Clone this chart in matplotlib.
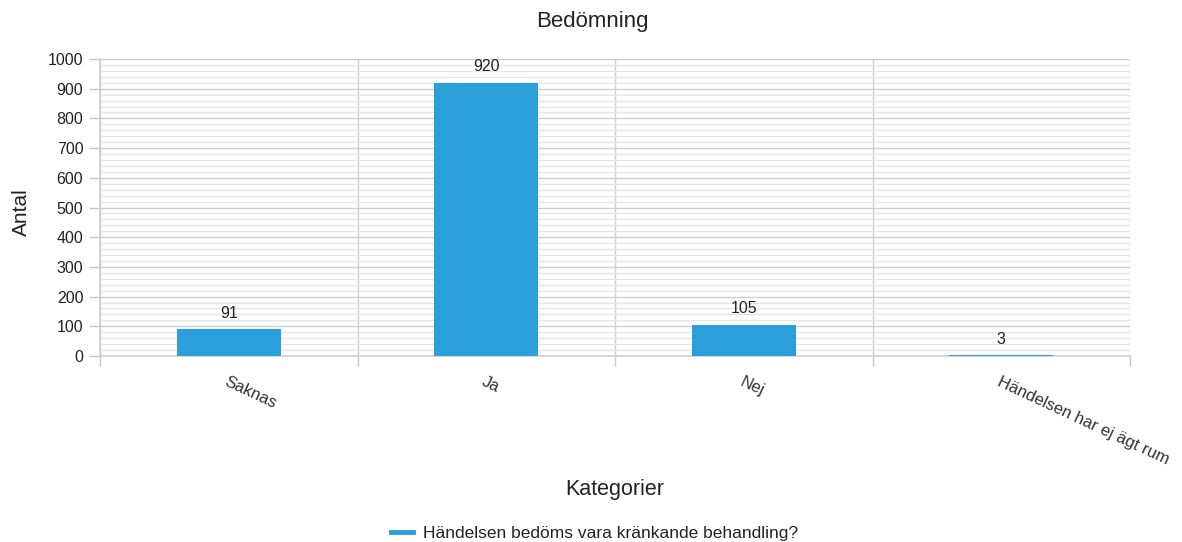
import matplotlib
matplotlib.use("Agg")
import matplotlib.pyplot as plt
from matplotlib.lines import Line2D
from matplotlib.ticker import MultipleLocator
import numpy as np

categories = ["Saknas", "Ja", "Nej", "Händelsen har ej ägt rum"]
values = [91, 920, 105, 3]
series_name = "Händelsen bedöms vara kränkande behandling?"
title = "Bedömning"
xlabel = "Kategorier"
ylabel = "Antal"

plt.rcParams['font.family'] = ['Liberation Sans', 'DejaVu Sans']

W, H = 1182, 542
fig = plt.figure(figsize=(W / 100, H / 100), dpi=100)
ax = fig.add_axes([100 / W, 1 - 356 / H, 1030 / W, (356 - 59) / H])

color = "#2b9fd9"
x = np.arange(len(categories))
ax.bar(x, values, width=0.405, color=color, zorder=3)
for xi, v in zip(x, values):
    ax.annotate(str(v), (xi, v), xytext=(0, 6), textcoords="offset points",
                ha="center", va="bottom", fontsize=11.5, color="#222222", zorder=4)

ax.set_xlim(-0.5, len(categories) - 0.5)
ax.set_ylim(0, 1000)
ax.yaxis.set_major_locator(MultipleLocator(100))
ax.yaxis.set_minor_locator(MultipleLocator(20))

# category boundaries as major x ticks / grid
ax.set_xticks(np.arange(-0.5, len(categories) + 0.5, 1.0))
ax.set_xticklabels([])
ax.tick_params(axis="x", length=7, color="#c8c8c8", width=1)
ax.tick_params(axis="y", which="major", length=8, color="#c8c8c8", width=1,
               labelsize=11.5, labelcolor="#222222", pad=4)
ax.tick_params(axis="y", which="minor", length=0)

ax.grid(True, axis="y", which="major", color="#cfcfcf", linewidth=1.0, zorder=0)
ax.grid(True, axis="y", which="minor", color="#e6e6e6", linewidth=1.0, zorder=0)
ax.grid(True, axis="x", which="major", color="#cfcfcf", linewidth=1.0, zorder=0)

for s in ["top", "right"]:
    ax.spines[s].set_visible(False)
ax.spines["left"].set_color("#cfcfcf")
ax.spines["bottom"].set_color("#cfcfcf")
ax.spines["left"].set_linewidth(1.2)
ax.spines["bottom"].set_linewidth(1.2)

for xi, lab in zip(x, categories):
    ax.annotate(lab, (xi, 0), xytext=(0, -13), textcoords="offset points",
                rotation=-25, rotation_mode="anchor", ha="left", va="top",
                fontsize=12, color="#333333", annotation_clip=False)

fig.text(592 / W, 1 - 22 / H, title, ha="center", va="center", fontsize=16, color="#222222")
fig.text(21 / W, 1 - 212 / H, ylabel, ha="center", va="center", rotation=90,
         fontsize=15, color="#222222")
fig.text(615 / W, 1 - 490 / H, xlabel, ha="center", va="center", fontsize=15.5, color="#222222")

handle = Line2D([], [], color=color, linewidth=3.5)
fig.legend([handle], [series_name], loc="center", bbox_to_anchor=(595 / W, 1 - 533 / H),
           frameon=False, fontsize=12.5, handlelength=1.25, handletextpad=0.6,
           labelcolor="#222222")

fig.savefig("out.png", dpi=100)
